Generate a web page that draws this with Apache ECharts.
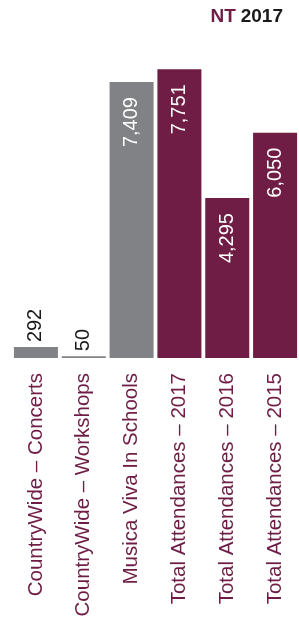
<!DOCTYPE html>
<html>
<head>
<meta charset="utf-8">
<script src="https://cdn.jsdelivr.net/npm/echarts@6/dist/echarts.min.js"></script>
<style>
  html, body { margin: 0; padding: 0; background: #fff; }
  #chart { width: 299px; height: 623px; }
</style>
</head>
<body>
<div id="chart"></div>
<script>
var categories = ['CountryWide – Concerts', 'CountryWide – Workshops', 'Musica Viva In Schools',
    'Total Attendances – 2017', 'Total Attendances – 2016', 'Total Attendances – 2015']
var values = [292, 50, 7409, 7751, 4295, 6050]
var barColors = ['#818285', '#818285', '#818285', '#6f1d45', '#6f1d45', '#6f1d45']

var maroon = '#6f1d45'

// small bars get their label above, the rest inside the top
var seriesData = values.map(function (v, i) {
    var item = { value: v, itemStyle: { color: barColors[i] } }
    if (v < 1000) {
        item.label = {
            position: 'top',
            align: 'left',
            color: '#1a1a1a',
            distance: 5
        }
    }
    return item
})

var mychart = echarts.init(document.getElementById('chart'))
mychart.setOption({
    animation: false,
    title: {
        text: '{a|NT} {b|2017}',
        right: 11,
        top: 2,
        textStyle: {
            rich: {
                a: { fontFamily: 'Liberation Sans', fontWeight: 'bold', fontSize: 19, color: maroon },
                b: { fontFamily: 'Liberation Sans', fontWeight: 'bold', fontSize: 19, color: '#1a1a1a' }
            }
        }
    },
    grid: {
        left: 12,
        right: 0,
        top: 60,
        bottom: 265
    },
    xAxis: {
        type: 'category',
        data: categories,
        axisLine: { show: false },
        axisTick: { show: false },
        axisLabel: {
            rotate: 90,
            interval: 0,
            margin: 15,
            fontSize: 20.5,
            fontFamily: 'Liberation Sans',
            color: maroon,
            padding: [4, 0, 0, 0]
        }
    },
    yAxis: {
        type: 'value',
        min: 0,
        max: 8000,
        show: false,
        splitLine: { show: false }
    },
    series: [{
        type: 'bar',
        barWidth: 44,
        data: seriesData,
        label: {
            show: true,
            position: 'insideTop',
            rotate: 90,
            align: 'right',
            verticalAlign: 'middle',
            distance: 15,
            padding: [9, 0, 0, 0],
            fontSize: 20,
            fontFamily: 'Liberation Sans',
            color: '#ffffff',
            formatter: function (p) {
                return p.value.toLocaleString('en-US')
            }
        }
    }]
})
</script>
</body>
</html>
